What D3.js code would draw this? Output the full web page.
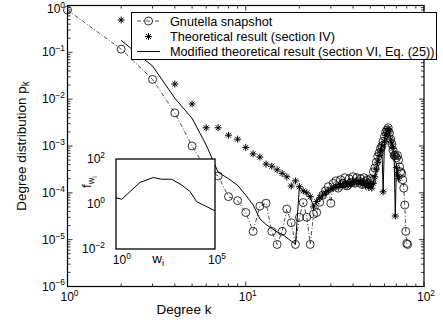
<!DOCTYPE html>
<html>
<head>
<meta charset="utf-8">
<script src="https://cdn.jsdelivr.net/npm/d3@7"></script>
<style>
  body { margin: 0; background: #fff; }
  svg { display: block; }
  text { font-family: "Liberation Sans", Arial, Helvetica, sans-serif; fill: #000; }
</style>
</head>
<body>
<div id="chart"></div>
<script>
// Gnutella snapshot (circles, dash-dot line)
var gnutK = [1,2,3,4,5,6,7,8,9,10,11,12,13,14,15,16,17,18,19,20,
  21,22,23,24,25,26,27,28,29,30,31,32,33,34,35,36,37,38,39,40,
  41,42,43,44,45,46,47,48,49,50,51,52,53,54,55,56,57,58,59,60,
  61,62,63,64,65,66,67,68,69,70,71,72,73,74,75,76,77,78,79,80,81];
var gnutP = [0.80,0.117,0.0265,0.0051,1.0e-3,3.2e-4,2.3e-4,8.3e-5,6.8e-5,3.8e-5,
  1.5e-5,5.2e-5,6.0e-5,1.5e-5,7.9e-6,1.5e-5,4.5e-5,2.3e-5,7.9e-6,3.0e-5,
  6.2e-5,3.0e-5,7.9e-6,3.5e-5,3.8e-5,6.3e-5,8.9e-5,1.1e-4,1.35e-4,6.0e-5,
  1.6e-4,1.8e-4,1.26e-4,1.9e-4,1.6e-4,2.1e-4,1.4e-4,2.0e-4,1.66e-4,2.2e-4,
  1.6e-4,2.1e-4,1.8e-4,2.0e-4,1.5e-4,2.1e-4,1.74e-4,1.9e-4,1.6e-4,2.0e-4,
  1.8e-4,2.8e-4,3.4e-4,4.5e-4,6.0e-4,7.1e-4,8.9e-4,1.0e-3,1.26e-3,1.6e-3,
  2.0e-3,2.2e-3,2.45e-3,1.9e-3,1.4e-3,1.1e-3,8.1e-4,6.3e-4,6.3e-4,5.6e-4,
  6.3e-4,5.0e-4,3.6e-4,2.8e-4,2.6e-4,1.9e-4,1.26e-4,5.5e-5,1.5e-5,8.3e-6,7.9e-6];

// Theoretical result, section IV (asterisks)
var theoK = [2,3,4,5,6,7,8,9,10,11,12,13,14,15,16,17,18,19,20,
  21,22,23,24,25,26,27,28,29,30,31,32,33,34,35,36,37,38,39,40,
  41,42,43,44,45,46,47,48,49,50,51,52,53,54,55,56,57,58,59,60,
  61,62,63,64,65,66,67,68,69,70,71,72];
var theoP = [0.49,0.089,0.021,7.9e-3,2.45e-3,2.45e-3,1.7e-3,1.4e-3,9.3e-4,6.8e-4,
  5.8e-4,4.1e-4,3.7e-4,3.1e-4,2.6e-4,2.2e-4,1.4e-4,1.8e-4,1.35e-4,
  1.1e-4,1.0e-4,8.3e-5,5.0e-5,6.5e-5,7.9e-5,8.9e-5,1.0e-4,1.1e-4,1.2e-4,
  1.26e-4,1.4e-4,1.3e-4,1.5e-4,1.4e-4,1.6e-4,1.4e-4,1.66e-4,1.5e-4,1.74e-4,
  1.6e-4,1.8e-4,1.6e-4,1.8e-4,1.5e-4,1.74e-4,1.4e-4,1.6e-4,1.3e-4,1.5e-4,
  1.26e-4,1.6e-4,2.2e-4,3.2e-4,4.5e-4,6.3e-4,7.9e-4,1.0e-3,1.05e-4,1.26e-3,
  1.66e-3,2.1e-3,2.35e-3,2.0e-3,1.4e-3,1.1e-3,8.9e-4,6.3e-4,3.2e-5,3.5e-4,
  2.5e-4,2.0e-4];

// Modified theoretical result, section VI, Eq. (25) (solid line)
var modK = [2,3,4,5,6,7,8,9,10,11,12,13,14,15,16,17,18,19,20,
  21,22,23,24,25,26,27,28,29,30,31,32,33,34,35,36,37,38,39,40,
  41,42,43,44,45,46,47,48,49,50,51,52,53,54,55,56,57,58,59,60,
  61,62,63,64,65,66,67,68,69,70,71,72];
var modP = [0.18,0.051,0.0105,3.9e-3,1.05e-3,2.75e-4,2.0e-4,1.45e-4,8.9e-5,5.5e-5,
  2.8e-5,2.1e-5,1.74e-5,1.45e-5,1.3e-5,1.1e-5,9.3e-6,7.9e-6,1.35e-4,
  1.1e-4,1.0e-4,8.3e-5,5.0e-5,6.5e-5,7.9e-5,8.9e-5,1.0e-4,1.1e-4,1.2e-4,
  1.26e-4,1.4e-4,1.3e-4,1.5e-4,1.4e-4,1.6e-4,1.4e-4,1.66e-4,1.5e-4,1.74e-4,
  1.6e-4,1.8e-4,1.6e-4,1.8e-4,1.5e-4,1.74e-4,1.4e-4,1.6e-4,1.3e-4,1.5e-4,
  1.26e-4,1.6e-4,2.2e-4,3.2e-4,4.5e-4,6.3e-4,7.9e-4,1.0e-3,1.05e-4,1.26e-3,
  1.66e-3,2.1e-3,2.35e-3,2.0e-3,1.4e-3,1.1e-3,8.9e-4,6.3e-4,3.2e-5,3.5e-4,
  2.5e-4,2.0e-4];

// inset: f_{w_i} versus w_i
var insetW = [0.63,1.26,11.5,57.5,158,525,1780,4900,11000,1e5];
var insetF = [1.9,1.62,9.1,15.1,12.6,12.6,7.0,3.55,1.26,0.5];

var legendLabels = ["Gnutella snapshot", "Theoretical result (section IV)",
  "Modified theoretical result (section VI, Eq. (25))"];

var svg = d3.select("#chart").append("svg")
  .attr("width", 443).attr("height", 323);

var x = d3.scaleLog().domain([1, 100]).range([67.5, 424]);
var y = d3.scaleLog().domain([1e-6, 1]).range([286.5, 5.5]);

function isMajor(v) {
  var l = Math.log10(v);
  return Math.abs(l - Math.round(l)) < 1e-9;
}

function powLabel(sel, expo, fs) {
  sel.append("tspan").text("10");
  sel.append("tspan").attr("dy", -fs * 0.42).attr("font-size", fs * 0.7)
    .text(expo < 0 ? "\u2212" + (-expo) : expo);
}

var fs = 12;

// frame + ticks
var axes = svg.append("g");
x.ticks().forEach(function(v) {
  var len = isMajor(v) ? 5 : 3, px = x(v);
  axes.append("line").attr("x1", px).attr("x2", px).attr("y1", 286.5).attr("y2", 286.5 - len)
    .attr("stroke", "#000").attr("stroke-width", 0.8);
  axes.append("line").attr("x1", px).attr("x2", px).attr("y1", 5.5).attr("y2", 5.5 + len)
    .attr("stroke", "#000").attr("stroke-width", 0.8);
  if (isMajor(v)) {
    var t = axes.append("text").attr("x", px + 2).attr("y", 301)
      .attr("text-anchor", "middle").attr("font-size", fs);
    powLabel(t, Math.round(Math.log10(v)), fs);
  }
});
y.ticks().forEach(function(v) {
  var len = isMajor(v) ? 5 : 3, py = y(v);
  axes.append("line").attr("x1", 67.5).attr("x2", 67.5 + len).attr("y1", py).attr("y2", py)
    .attr("stroke", "#000").attr("stroke-width", 0.8);
  axes.append("line").attr("x1", 424).attr("x2", 424 - len).attr("y1", py).attr("y2", py)
    .attr("stroke", "#000").attr("stroke-width", 0.8);
  if (isMajor(v)) {
    var t = axes.append("text").attr("x", 65).attr("y", Math.max(py + 4, 13))
      .attr("text-anchor", "end").attr("font-size", fs);
    powLabel(t, Math.round(Math.log10(v)), fs);
  }
});
axes.append("rect").attr("x", 67.5).attr("y", 5.5).attr("width", 424 - 67.5).attr("height", 281)
  .attr("fill", "none").attr("stroke", "#000").attr("stroke-width", 1.2);

// axis titles
svg.append("text").attr("x", 184).attr("y", 314).attr("text-anchor", "middle")
  .attr("font-size", 13.5).text("Degree k");
var yl = svg.append("text").attr("transform", "translate(26,146) rotate(-90)")
  .attr("text-anchor", "middle").attr("font-size", 13.5);
yl.append("tspan").text("Degree distribution p");
yl.append("tspan").attr("dy", 3).attr("font-size", 10).text("k");

// series
var gnut = gnutK.map(function(k, i) { return [k, gnutP[i]]; });
var theo = theoK.map(function(k, i) { return [k, theoP[i]]; });
var mod = modK.map(function(k, i) { return [k, modP[i]]; });
var line = d3.line().x(function(d) { return x(d[0]); }).y(function(d) { return y(d[1]); });

svg.append("path").datum(gnut).attr("d", line).attr("fill", "none")
  .attr("stroke", "#000").attr("stroke-width", 0.7).attr("stroke-dasharray", "4,2,1,2");
svg.append("path").datum(mod).attr("d", line).attr("fill", "none")
  .attr("stroke", "#000").attr("stroke-width", 1);

function starPath(r) {
  var a = r * 0.7;
  return "M" + (-r) + ",0H" + r + "M0," + (-r) + "V" + r +
    "M" + (-a) + "," + (-a) + "L" + a + "," + a + "M" + (-a) + "," + a + "L" + a + "," + (-a);
}
svg.append("g").selectAll("path").data(theo).enter().append("path")
  .attr("transform", function(d) { return "translate(" + x(d[0]) + "," + y(d[1]) + ")"; })
  .attr("d", starPath(3.5)).attr("stroke", "#000").attr("stroke-width", 1).attr("fill", "none");
svg.append("g").selectAll("circle").data(gnut).enter().append("circle")
  .attr("cx", function(d) { return x(d[0]); })
  .attr("cy", function(d) { return y(d[1]); })
  .attr("r", 4).attr("fill", "none").attr("stroke", "#000").attr("stroke-width", 0.8);

// inset
var ix = d3.scaleLog().domain([Math.pow(10, -0.2), 1e5]).range([116, 215]);
var iy = d3.scaleLog().domain([1e-2, 1e2]).range([249, 159]);
var inset = svg.append("g");
inset.append("rect").attr("x", 116).attr("y", 159).attr("width", 99).attr("height", 90)
  .attr("fill", "#fff").attr("stroke", "#000").attr("stroke-width", 1.3);
var iline = d3.line().x(function(d) { return ix(d[0]); }).y(function(d) { return iy(d[1]); });
inset.append("path").datum(insetW.map(function(w, i) { return [w, insetF[i]]; }))
  .attr("d", iline).attr("fill", "none").attr("stroke", "#000").attr("stroke-width", 1);
[1e-2, 1, 1e2].forEach(function(v) {
  var t = inset.append("text").attr("x", 105).attr("y", iy(v) + 4)
    .attr("text-anchor", "end").attr("font-size", fs);
  powLabel(t, Math.round(Math.log10(v)), fs);
});
[1, 1e5].forEach(function(v) {
  var t = inset.append("text").attr("x", ix(v) + 2).attr("y", 264)
    .attr("text-anchor", "middle").attr("font-size", fs);
  powLabel(t, Math.round(Math.log10(v)), fs);
});
var wl = inset.append("text").attr("x", 158).attr("y", 263).attr("text-anchor", "middle").attr("font-size", 13.5);
wl.append("tspan").text("w");
wl.append("tspan").attr("dy", 3).attr("font-size", 9).text("i");
var fl = inset.append("text").attr("transform", "translate(91,182) rotate(-90)")
  .attr("text-anchor", "middle").attr("font-size", 13.5);
fl.append("tspan").text("f");
fl.append("tspan").attr("dy", 3).attr("font-size", 9).text("w");
fl.append("tspan").attr("dy", 3).attr("font-size", 7).text("i");

// legend
var lg = svg.append("g");
lg.append("rect").attr("x", 131.5).attr("y", 12.5).attr("width", 305).attr("height", 47)
  .attr("fill", "#fff").attr("stroke", "#000").attr("stroke-width", 1);
var rows = [21, 36.5, 51.5];
lg.append("line").attr("x1", 137).attr("x2", 160).attr("y1", rows[0]).attr("y2", rows[0])
  .attr("stroke", "#000").attr("stroke-width", 0.7).attr("stroke-dasharray", "4,2,1,2");
lg.append("circle").attr("cx", 148.5).attr("cy", rows[0]).attr("r", 4)
  .attr("fill", "none").attr("stroke", "#000").attr("stroke-width", 0.8);
lg.append("path").attr("transform", "translate(148.5," + rows[1] + ")").attr("d", starPath(3.5))
  .attr("stroke", "#000").attr("stroke-width", 1);
lg.append("line").attr("x1", 137).attr("x2", 160).attr("y1", rows[2]).attr("y2", rows[2])
  .attr("stroke", "#000").attr("stroke-width", 1);
legendLabels.forEach(function(s, i) {
  lg.append("text").attr("x", 170).attr("y", rows[i] + 4.5).attr("font-size", 12.7).text(s);
});
</script>
</body>
</html>
